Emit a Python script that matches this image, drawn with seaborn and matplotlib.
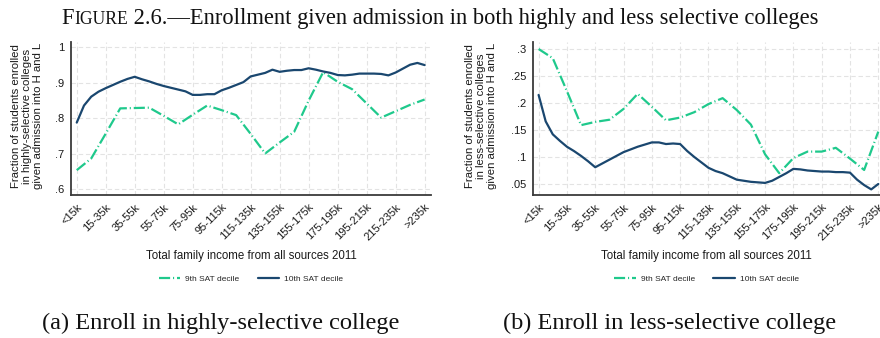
import numpy as np
import pandas as pd
import matplotlib
matplotlib.use("Agg")
import matplotlib.pyplot as plt
import seaborn as sns

# ---- data -------------------------------------------------------------
income_labels = ["<15k", "15-35k", "35-55k", "55-75k", "75-95k", "95-115k",
                 "115-135k", "135-155k", "155-175k", "175-195k", "195-215k",
                 "215-235k", ">235k"]

# 10th SAT decile, sampled every quarter of a label step
top_high = [0.788, 0.836, 0.861, 0.875, 0.885, 0.894, 0.903, 0.911, 0.917,
            0.910, 0.904, 0.897, 0.891, 0.886, 0.881, 0.876, 0.866, 0.866,
            0.868, 0.868, 0.879, 0.886, 0.894, 0.902, 0.918, 0.923, 0.928,
            0.937, 0.931, 0.934, 0.936, 0.936, 0.941, 0.937, 0.932, 0.928,
            0.922, 0.921, 0.923, 0.926, 0.926, 0.926, 0.925, 0.921, 0.929,
            0.940, 0.951, 0.956, 0.950]
top_less = [0.215, 0.166, 0.142, 0.130, 0.119, 0.111, 0.102, 0.092, 0.081,
            0.088, 0.095, 0.102, 0.109, 0.114, 0.119, 0.123, 0.127, 0.127,
            0.124, 0.125, 0.124, 0.111, 0.100, 0.090, 0.080, 0.074, 0.070,
            0.064, 0.058, 0.056, 0.054, 0.053, 0.052, 0.056, 0.063, 0.070,
            0.078, 0.077, 0.075, 0.074, 0.073, 0.073, 0.072, 0.072, 0.071,
            0.058, 0.048, 0.040, 0.050]

# 9th SAT decile, sampled every half label step
ninth_high = [0.654, 0.687, 0.757, 0.828, 0.829, 0.830, 0.807, 0.783, 0.810,
              0.836, 0.823, 0.809, 0.756, 0.701, 0.732, 0.762, 0.850, 0.930,
              0.903, 0.882, 0.842, 0.802, 0.820, 0.838, 0.853]
ninth_less = [0.300, 0.283, 0.222, 0.159, 0.165, 0.169, 0.189, 0.217, 0.193,
              0.168, 0.173, 0.183, 0.198, 0.209, 0.187, 0.160, 0.105, 0.070,
              0.098, 0.110, 0.110, 0.117, 0.097, 0.076, 0.147]

series_names = ["9th SAT decile", "10th SAT decile"]
high_ticks = [0.6, 0.7, 0.8, 0.9, 1.0]
high_ticklabels = [".6", ".7", ".8", ".9", "1"]
less_ticks = [0.05, 0.10, 0.15, 0.20, 0.25, 0.30]
less_ticklabels = [".05", ".1", ".15", ".2", ".25", ".3"]

# ---- style ------------------------------------------------------------
sns.set_theme(style="white")
plt.rcParams["font.family"] = ["Liberation Sans", "DejaVu Sans"]

GREEN = "#1fc98c"
NAVY = "#1a476f"
palette = {series_names[0]: GREEN, series_names[1]: NAVY}
dash_map = {series_names[0]: (5, 1.3, 0.5, 1.3), series_names[1]: ""}

W, H = 880, 338
fig = plt.figure(figsize=(W / 100, H / 100), dpi=100)


def px_axes(left, right, top, bottom):
    return fig.add_axes([left / W, 1 - bottom / H, (right - left) / W, (bottom - top) / H])


def long_frame(ninth, top):
    x9 = np.arange(len(ninth)) * (len(income_labels) - 1) / (len(ninth) - 1)
    x10 = np.arange(len(top)) * (len(income_labels) - 1) / (len(top) - 1)
    return pd.concat([
        pd.DataFrame({"x": x9, "y": ninth, "series": series_names[0]}),
        pd.DataFrame({"x": x10, "y": top, "series": series_names[1]}),
    ], ignore_index=True)


def draw_panel(ax, ninth, top, yticks, yticklabels, ylim, xright):
    df = long_frame(ninth, top)
    sns.lineplot(data=df, x="x", y="y", hue="series", style="series",
                 palette=palette, dashes=dash_map, hue_order=series_names,
                 style_order=series_names, linewidth=1.6, ax=ax, legend=False)
    ax.set_xlim(-0.198, xright)
    ax.set_ylim(*ylim)
    ax.set_xticks(range(len(income_labels)))
    ax.set_xticklabels(income_labels, rotation=45, ha="right",
                       rotation_mode="anchor", fontsize=8)
    ax.set_yticks(yticks)
    ax.set_yticklabels(yticklabels, fontsize=8)
    ax.grid(True, color="#e3e3e3", linestyle=(0, (4, 2.5)), linewidth=0.8)
    ax.set_axisbelow(True)
    for side in ("top", "right"):
        ax.spines[side].set_visible(False)
    for side in ("left", "bottom"):
        ax.spines[side].set_color("#3a3a3a")
        ax.spines[side].set_linewidth(1.3)
    ax.tick_params(axis="both", which="major", direction="out", length=3,
                   width=0.9, color="#3a3a3a", pad=2, labelcolor="#1a1a1a")
    ax.set_xlabel("Total family income from all sources 2011", fontsize=8.3,
                  labelpad=6, color="#1a1a1a")
    ax.set_ylabel("")
    handles = ax.get_lines()[:2]
    ax.legend(handles, series_names, loc="upper center",
              bbox_to_anchor=(0.5, -0.475), ncol=2, frameon=False, fontsize=6,
              handlelength=2.6, columnspacing=2.2, handletextpad=0.6)
    return ax


ax_a = px_axes(71, 431, 42, 195)
draw_panel(ax_a, ninth_high, top_high, high_ticks, high_ticklabels,
           (0.584, 1.015), 12.22)
ax_b = px_axes(533, 880, 42, 195)
draw_panel(ax_b, ninth_less, top_less, less_ticks, less_ticklabels,
           (0.0296, 0.313), 12.06)

fig.text(27 / W, 1 - 116 / H,
         "Fraction of students enrolled\nin highly-selective colleges\ngiven admission into H and L",
         rotation=90, ha="center", va="center", multialignment="center",
         fontsize=8.2, color="#1a1a1a", linespacing=1.1)
fig.text(481 / W, 1 - 116 / H,
         "Fraction of students enrolled\nin less-selective colleges\ngiven admission into H and L",
         rotation=90, ha="center", va="center", multialignment="center",
         fontsize=8.2, color="#1a1a1a", linespacing=1.1)

# ---- serif title with small caps and subfigure captions ---------------
renderer = fig.canvas.get_renderer()
SERIF = ["Liberation Serif", "DejaVu Serif"]


def text_width(s, size):
    t = fig.text(0, 0, s, fontsize=size, family=SERIF)
    w = t.get_window_extent(renderer).width
    t.remove()
    return w


def fitted_size(pieces, target):
    base = sum(text_width(s, 10 * r) for s, r in pieces)
    return 10 * target / base


def draw_pieces(pieces, center_x, y_px, size):
    widths = [text_width(s, size * r) for s, r in pieces]
    x = center_x - sum(widths) / 2
    for (s, r), w in zip(pieces, widths):
        fig.text(x / W, 1 - y_px / H, s, fontsize=size * r, family=SERIF,
                 ha="left", va="baseline", color="#111111")
        x += w


title_pieces = [("F", 1.0), ("IGURE", 0.78),
                (" 2.6.\u2014Enrollment given admission in both highly and less selective colleges", 1.0)]
ts = fitted_size(title_pieces, 755)
draw_pieces(title_pieces, 440, 24, ts)

cap_a = [("(a) Enroll in highly-selective college", 1.0)]
cap_b = [("(b) Enroll in less-selective college", 1.0)]
cs = fitted_size(cap_a, 358)
draw_pieces(cap_a, 221, 329, cs)
draw_pieces(cap_b, 670, 329, cs)

fig.savefig("out.png", dpi=100, facecolor="white")
